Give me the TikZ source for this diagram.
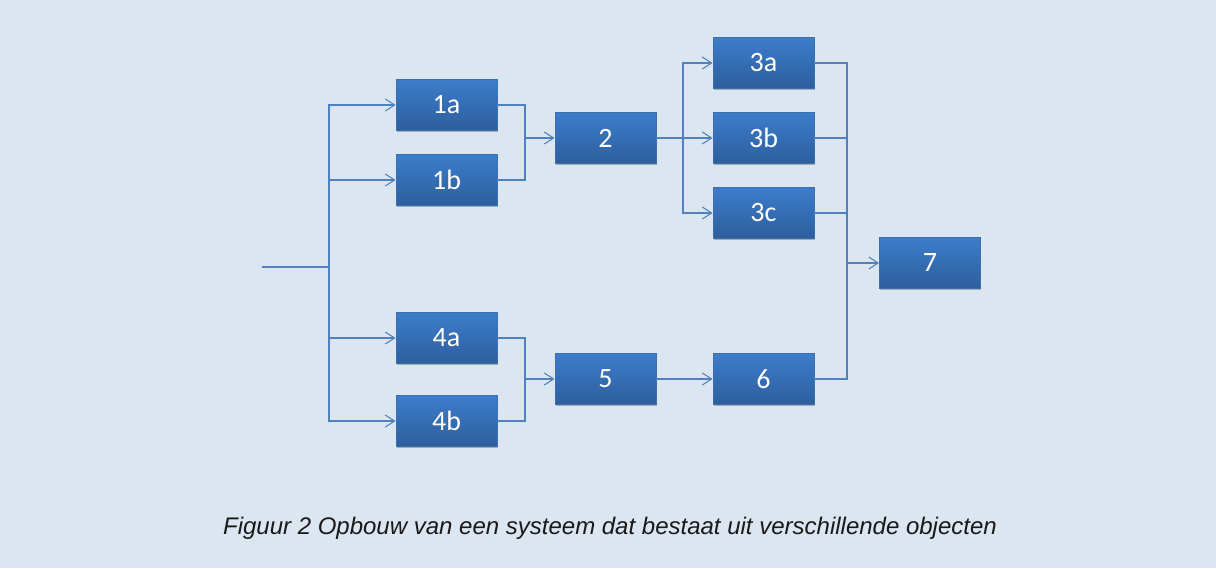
\documentclass[tikz,border=0pt]{standalone}
\usepackage{fontspec}
\setmainfont{Liberation Sans}
\newfontfamily\boxfont{Carlito}
\usetikzlibrary{arrows.meta,shadows}
\definecolor{bg}{HTML}{DCE6F1}
\definecolor{linec}{HTML}{4F81BD}
\definecolor{boxtop}{HTML}{3C7DCA}
\definecolor{boxbot}{HTML}{2D5E9E}
\definecolor{boxedge}{HTML}{3D6EAD}
\tikzset{
  blk/.style={rectangle, minimum width=75.75pt, minimum height=38.25pt, inner sep=0pt,
    top color=boxtop, bottom color=boxbot, draw=boxedge, line width=0.6pt,
    drop shadow={shadow xshift=0.6pt, shadow yshift=-1.2pt, opacity=0.25, fill=black},
    text=white, font=\boxfont\fontsize{21}{24}\selectfont},
  conn/.style={draw=linec, line width=0.9pt},
  arr/.style={conn, -{Straight Barb[length=7pt, width=9pt, line width=0.8pt]}}
}
\begin{document}
\begin{tikzpicture}[x=0.75pt, y=-0.75pt]
\fill[bg] (0,0) rectangle (1216,568);
\useasboundingbox (0,0) rectangle (1216,568);
% blocks
\node[blk] (n1a) at (446.5,105) {1a};
\node[blk] (n1b) at (446.5,180) {1b};
\node[blk] (n2)  at (605.5,138) {2};
\node[blk] (n3a) at (763.5,63) {3a};
\node[blk] (n3b) at (763.5,138) {3b};
\node[blk] (n3c) at (763.5,213) {3c};
\node[blk] (n7)  at (930,263) {7};
\node[blk] (n4a) at (446.5,338) {4a};
\node[blk] (n4b) at (446.5,421) {4b};
\node[blk] (n5)  at (605.5,379) {5};
\node[blk] (n6)  at (763.5,379) {6};
% junction coordinates
\coordinate (in) at (262,267);
\coordinate (bus) at (329,267);
\coordinate (m1) at (525,138);
\coordinate (s2) at (683,138);
\coordinate (m4) at (525,379);
\coordinate (m7) at (847,263);
% connectors
\draw[conn] (in) -- (bus);
\draw[arr] (bus) |- (n1a.west);
\draw[arr] (bus) |- (n1b.west);
\draw[arr] (bus) |- (n4a.west);
\draw[arr] (bus) |- (n4b.west);
\draw[conn] (n1a.east) -| (m1);
\draw[conn] (n1b.east) -| (m1);
\draw[arr] (m1) -- (n2.west);
\draw[conn] (n2.east) -- (s2);
\draw[arr] (s2) |- (n3a.west);
\draw[arr] (s2) |- (n3b.west);
\draw[arr] (s2) |- (n3c.west);
\draw[conn] (n3a.east) -| (m7);
\draw[conn] (n3b.east) -| (m7);
\draw[conn] (n3c.east) -| (m7);
\draw[conn] (n6.east) -| (m7);
\draw[arr] (m7) -- (n7.west);
\draw[conn] (n4a.east) -| (m4);
\draw[conn] (n4b.east) -| (m4);
\draw[arr] (m4) -- (n5.west);
\draw[arr] (n5.east) -- (n6.west);
% caption
\node[font=\itshape\fontsize{18}{21}\selectfont, text=black!90] (cap) at (610,528)
  {Figuur 2 Opbouw van een systeem dat bestaat uit verschillende objecten};
\end{tikzpicture}
\end{document}
